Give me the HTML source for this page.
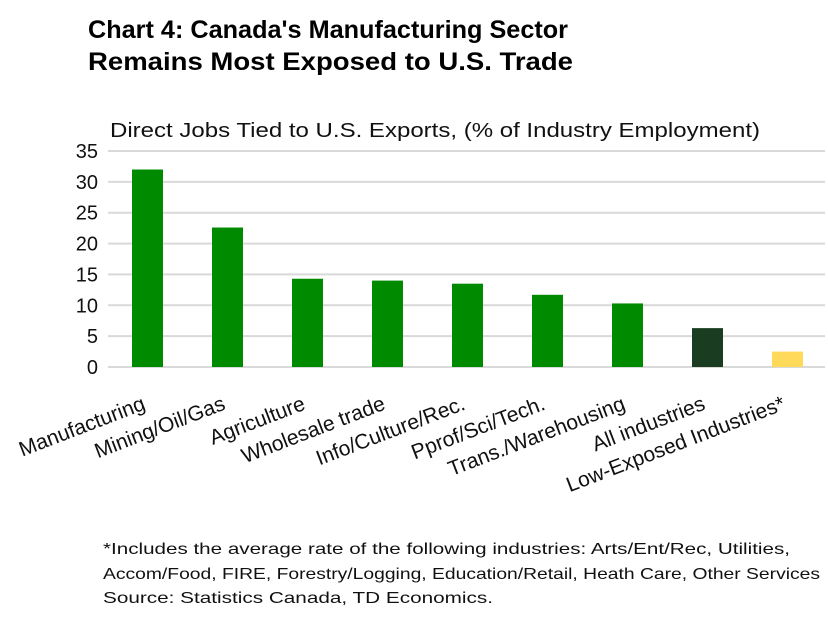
<!DOCTYPE html>
<html><head><meta charset="utf-8"><style>
body{margin:0;background:#fff;width:828px;height:617px;overflow:hidden;font-family:"Liberation Sans",sans-serif;}
</style></head><body>
<svg id="c" width="828" height="617" style="position:absolute;left:0;top:0">
<text x="88" y="38" font-size="25" font-weight="bold" textLength="480" lengthAdjust="spacingAndGlyphs">Chart 4: Canada's Manufacturing Sector</text>
<text x="88" y="70" font-size="25" font-weight="bold" textLength="485" lengthAdjust="spacingAndGlyphs">Remains Most Exposed to U.S. Trade</text>
<text x="110" y="137" font-size="20.5" fill="#111" textLength="650" lengthAdjust="spacingAndGlyphs">Direct Jobs Tied to U.S. Exports, (% of Industry Employment)</text>
<text x="103" y="554" font-size="16" fill="#111" textLength="687" lengthAdjust="spacingAndGlyphs">*Includes the average rate of the following industries: Arts/Ent/Rec,  Utilities,</text>
<text x="103" y="579" font-size="16" fill="#111" textLength="717" lengthAdjust="spacingAndGlyphs">Accom/Food, FIRE, Forestry/Logging, Education/Retail, Heath Care, Other Services</text>
<text x="103" y="603" font-size="16" fill="#111" textLength="390" lengthAdjust="spacingAndGlyphs">Source: Statistics Canada, TD Economics.</text>
</svg>
<script>
const categories=["Manufacturing","Mining/Oil/Gas","Agriculture","Wholesale trade","Info/Culture/Rec.","Pprof/Sci/Tech.","Trans./Warehousing","All industries","Low-Exposed Industries*"];
const values=[32.0,22.6,14.3,14.0,13.5,11.7,10.3,6.3,2.5];
const barColors=["#008a00","#008a00","#008a00","#008a00","#008a00","#008a00","#008a00","#1a3d22","#ffd95a"];
const yTicks=[0,5,10,15,20,25,30,35];
const svg=document.getElementById('c');const NS="http://www.w3.org/2000/svg";
const y0=367,y35=151,left=108,right=825;
const y=v=>y0-(y0-y35)*v/35;
const x=i=>147.5+80*i;
function mk(t,a){const e=document.createElementNS(NS,t);for(const k in a)e.setAttribute(k,a[k]);svg.appendChild(e);return e;}
yTicks.forEach(v=>{
const g=mk('line',{x1:left,x2:right,y1:y(v),y2:y(v),stroke:'#d9d9d9','stroke-width':2});


const t=mk('text',{x:98,y:y(v)+7,'text-anchor':'end','font-size':20,fill:'#111'});t.textContent=v;


});
categories.forEach((c,i)=>{
const cx=x(i),w=31;
const r=mk('rect',{x:cx-w/2,y:y(values[i]),width:w,height:y(0)-y(values[i]),fill:barColors[i]});


const ax=cx-1,ay=409;
const t=mk('text',{x:ax,y:ay,'text-anchor':'end','font-size':21,fill:'#111',transform:`rotate(-21 ${ax} ${ay})`});
t.textContent=c;


});
</script>
</body></html>
